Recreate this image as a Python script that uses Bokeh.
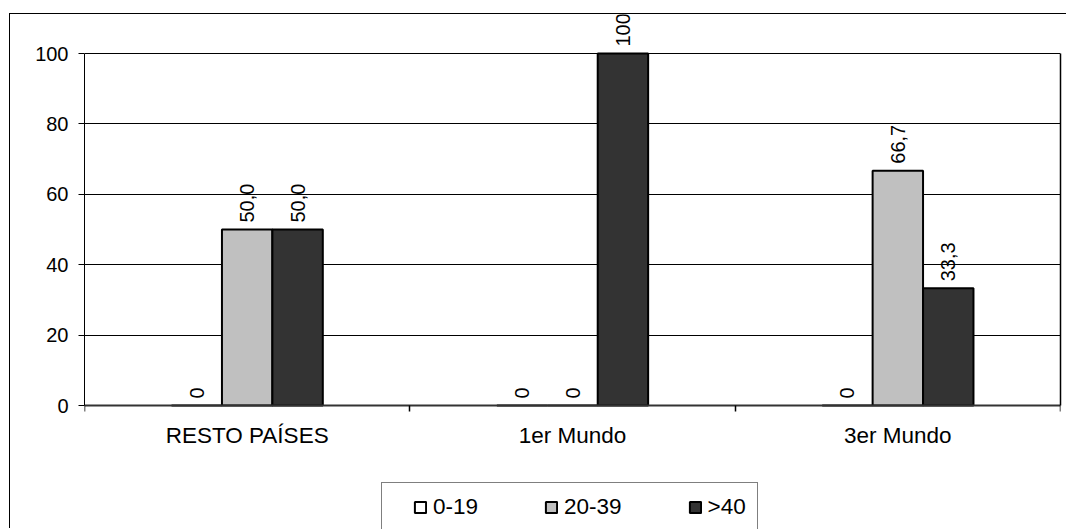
import numpy as np
from bokeh.plotting import figure
from bokeh.models import (ColumnDataSource, Range1d, FixedTicker, Legend,
                          LegendItem, LinearAxis)
from bokeh.transform import dodge
from bokeh.core.properties import value
from bokeh.embed import file_html
from bokeh.resources import INLINE

# ---- data ----
groups = ["RESTO PAÍSES", "1er Mundo", "3er Mundo"]
series = ["0-19", "20-39", ">40"]
v_0_19 = [0, 0, 0]
v_20_39 = [50.0, 0, 66.7]
v_40 = [50.0, 100, 33.3]
lab_0_19 = ["0", "0", "0"]
lab_20_39 = ["50,0", "0", "66,7"]
lab_40 = ["50,0", "100", "33,3"]
y_ticks = [0, 20, 40, 60, 80, 100]
colors = ["#ffffff", "#c0c0c0", "#333333"]

FONT = "Liberation Sans"
xpos = list(range(len(groups)))
src = ColumnDataSource(dict(x=xpos, a=v_0_19, b=v_20_39, c=v_40,
                            la=lab_0_19, lb=lab_20_39, lc=lab_40))

# layout (page pixels): canvas starts at (10, 14) inside the outer border
CX, CY = 10, 14
FR_L, FR_R, Y0_PX, Y100_PX, BOTTOM = 84, 1060, 405, 53, 529
W, H = 1067 - CX, BOTTOM - CY
ppu = (Y0_PX - Y100_PX) / 100.0
y_end = (Y0_PX - CY) / ppu
y_start = -(BOTTOM - Y0_PX) / ppu

p = figure(width=W, height=H,
           x_range=Range1d(-0.5, len(groups) - 0.5), y_range=Range1d(y_start, y_end),
           output_backend="svg", toolbar_location=None,
           min_border_left=FR_L - CX, min_border_top=0,
           min_border_right=W - (FR_R - CX), min_border_bottom=0)
p.styles = {"margin-left": "9px", "margin-top": "13px",
            "border-left": "1px solid #000000", "border-top": "1px solid #000000"}
p.background_fill_color = "white"
p.border_fill_color = "white"
p.outline_line_color = None

bw = 0.155
offs = [-bw, 0.0, bw]
vals = ["a", "b", "c"]
labs = ["la", "lb", "lc"]
bars = []
for off, vcol, lcol, col in zip(offs, vals, labs, colors):
    r = p.vbar(x=dodge("x", off, range=p.x_range), top=vcol, bottom=0, width=bw,
               source=src, fill_color=col, line_color="black", line_width=2)
    bars.append(r)
    p.text(x=dodge("x", off, range=p.x_range), y=vcol, text=lcol, source=src,
           angle=np.pi / 2, text_align="left", text_baseline="middle",
           y_offset=-7, text_font=value(FONT), text_font_size="20px",
           text_color="black")

# axes
p.yaxis.ticker = FixedTicker(ticks=y_ticks)
p.yaxis.bounds = (0, 100)
p.yaxis.major_tick_out = 6
p.yaxis.major_tick_in = 0
p.yaxis.minor_tick_line_color = None
p.yaxis.major_label_standoff = 10
p.yaxis.major_label_text_font = FONT
p.yaxis.major_label_text_font_size = "20px"
p.yaxis.major_label_text_color = "black"
p.yaxis.axis_line_color = "black"
p.yaxis.major_tick_line_color = "black"

right = LinearAxis(bounds=(0, 100), ticker=FixedTicker(ticks=[100]),
                   major_tick_line_color=None, minor_tick_line_color=None,
                   major_label_text_alpha=0, major_label_text_font_size="1px",
                   major_label_standoff=0, axis_line_color="black",
                   axis_line_width=1.5)
p.add_layout(right, "right")

p.xaxis.fixed_location = 0
p.xaxis.ticker = FixedTicker(ticks=xpos,
                             minor_ticks=[i - 0.5 for i in range(len(groups) + 1)])
p.xaxis.major_label_overrides = {i: g for i, g in zip(xpos, groups)}
p.xaxis.major_tick_line_color = None
p.xaxis.minor_tick_out = 6
p.xaxis.minor_tick_in = 0
p.xaxis.minor_tick_line_color = "black"
p.xaxis.minor_tick_line_width = 1.5
p.xaxis.axis_line_color = "#333333"
p.xaxis.axis_line_width = 2
p.xaxis.major_label_standoff = 11
p.xaxis.major_label_text_font = FONT
p.xaxis.major_label_text_font_size = "22.5px"
p.xaxis.major_label_text_color = "black"

p.xgrid.visible = False
p.ygrid.grid_line_color = "black"
p.ygrid.grid_line_width = 1

# legend (box top at page y=483, left at page x=381)
LEG_PAD = 11
leg_h = 2 * LEG_PAD + 27
items = [LegendItem(label=s, renderers=[r]) for s, r in zip(series, bars)]
legend = Legend(items=items, orientation="horizontal",
                location=(381 - FR_L, (BOTTOM - 483) - leg_h),
                title=" ", title_location="left", title_standoff=0,
                title_text_font=FONT, title_text_font_size="17px",
                padding=LEG_PAD, spacing=66, label_standoff=6,
                glyph_width=14, glyph_height=14,
                label_text_font=FONT, label_text_font_size="22.5px",
                label_text_color="black",
                border_line_color="black", border_line_width=1, margin=0,
                background_fill_color="white", background_fill_alpha=1)
p.add_layout(legend, "center")

open("out.html", "w").write(file_html(p, INLINE))
